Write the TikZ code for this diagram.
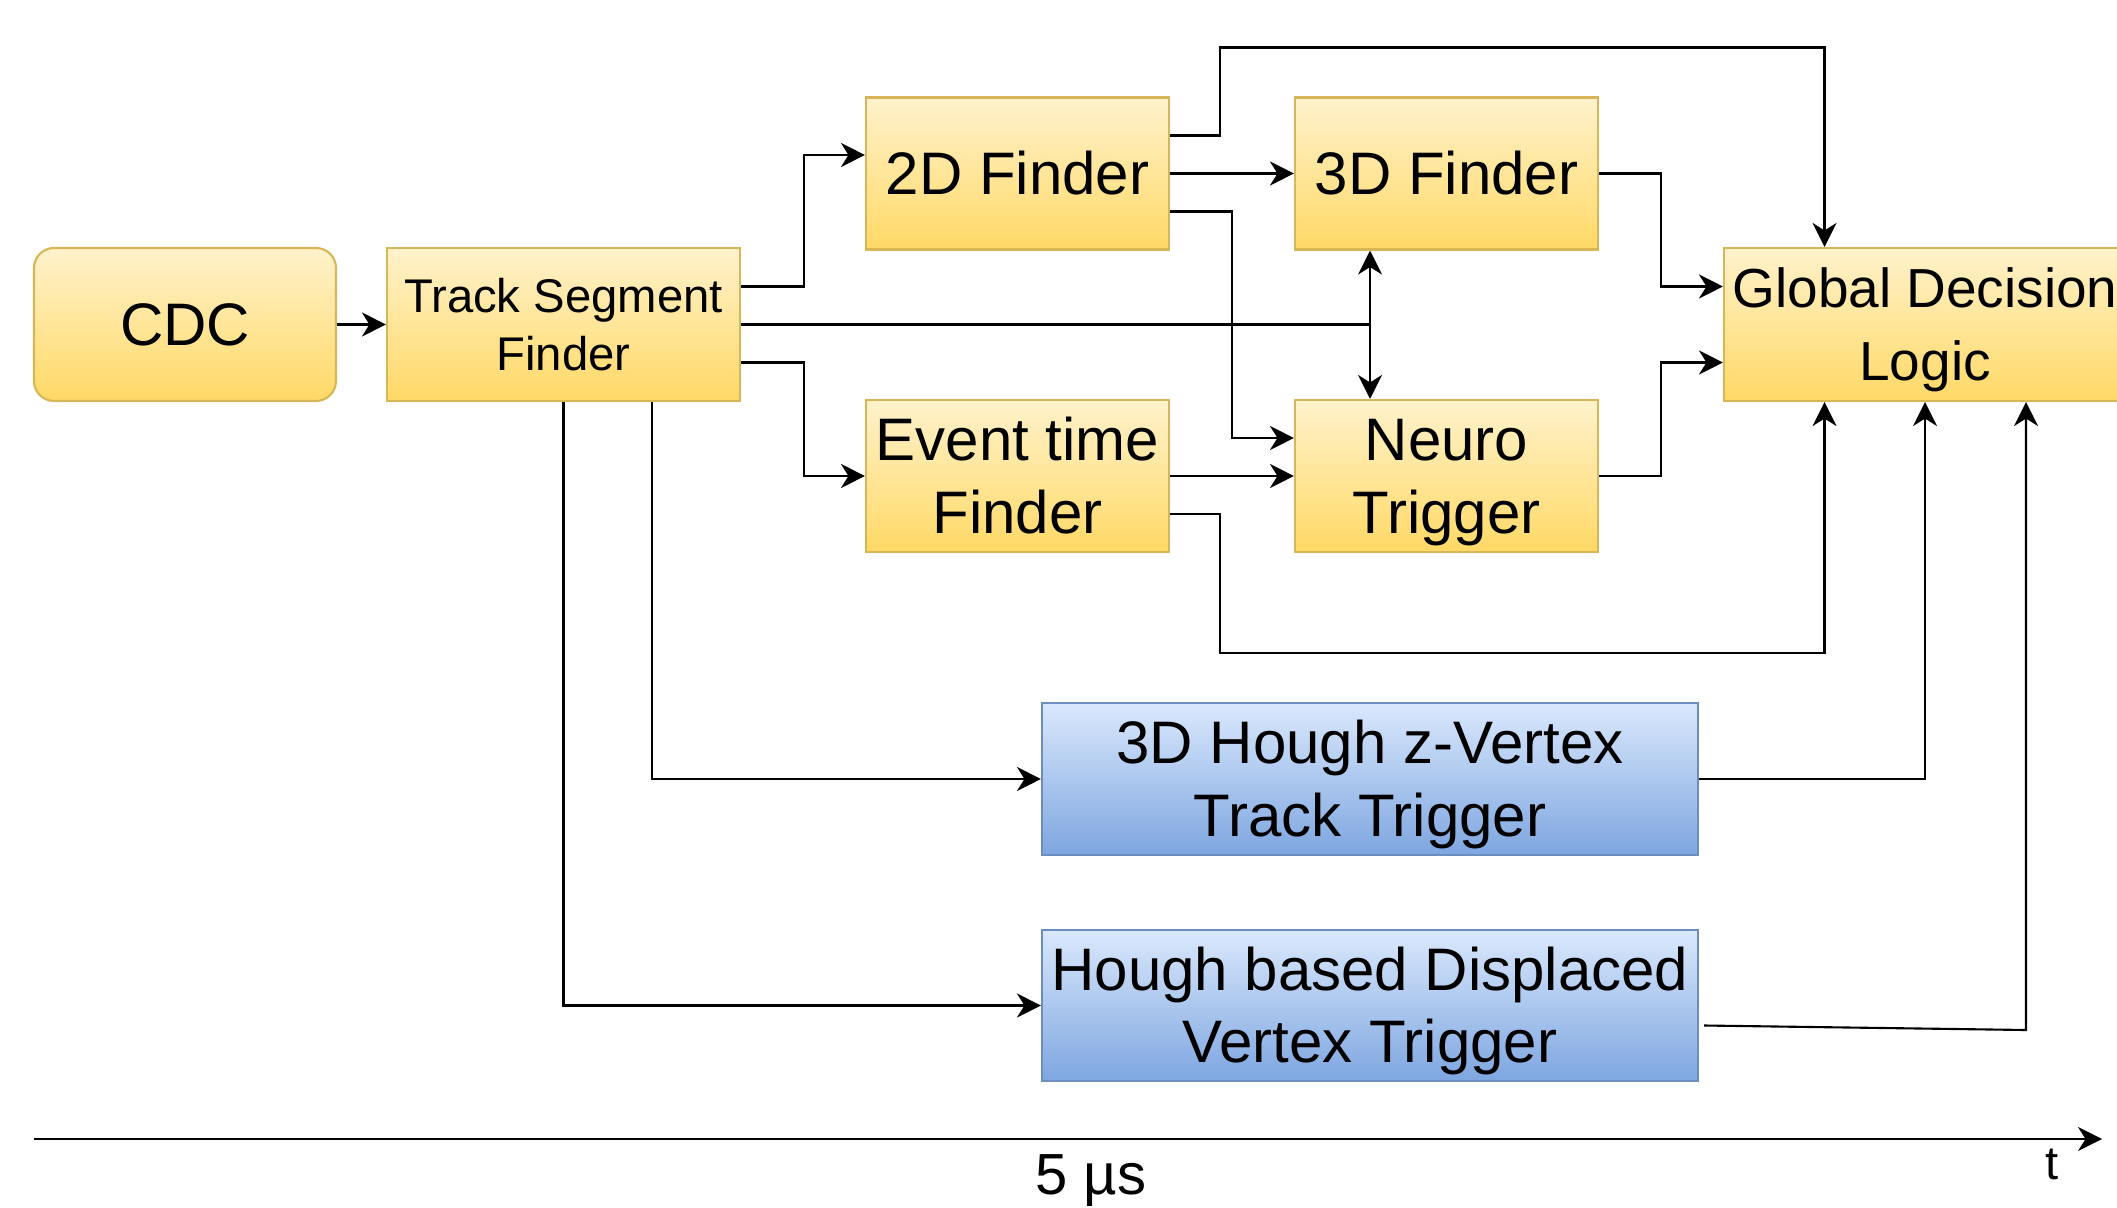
\documentclass[tikz,border=0pt]{standalone}
\usepackage{fontspec}
\setmainfont{Liberation Sans}
\usepackage{tikz}
\usetikzlibrary{arrows.meta}

\definecolor{ytop}{HTML}{FFF2CC}
\definecolor{ybot}{HTML}{FFD966}
\definecolor{yline}{HTML}{D6B656}
\definecolor{btop}{HTML}{DAE8FC}
\definecolor{bbot}{HTML}{7EA6E0}
\definecolor{bline}{HTML}{6C8EBF}

% fixed line box, so every line sits the same way in its block
\newcommand\linestrut{\rule[-0.25em]{0pt}{1.2em}}

\begin{document}
\begin{tikzpicture}[x=1cm,y=-1cm,
    block/.style={shape=rectangle,line width=0.6pt,inner sep=0pt,align=center,
      font=\fontsize{17.07}{20.75}\selectfont,execute at end node=\linestrut},
    yblock/.style={block,draw=yline,top color=ytop,bottom color=ybot,
      minimum width=3.03cm,minimum height=1.52cm},
    bblock/.style={block,draw=bline,top color=btop,bottom color=bbot,
      minimum width=6.56cm,minimum height=1.52cm},
    link/.style={draw,line width=0.6pt,-{Stealth[length=2.4mm,width=2.4mm,inset=0.75mm]}}]
    \useasboundingbox (0,0) rectangle (21.17,12.07);

    % trigger blocks
    \path (1.85,3.245) node [yblock,rounded corners=0.2cm,minimum width=3.02cm,minimum height=1.53cm] (cdc) {CDC}
          (5.635,3.245) node [yblock,minimum width=3.53cm,minimum height=1.53cm,
                font=\fontsize{13.45}{16.5}\selectfont] (tsf) {\linestrut Track Segment\\Finder}
          (10.175,1.735) node [yblock] (f2d) {2D Finder}
          (14.465,1.735) node [yblock] (f3d) {3D Finder}
          (10.175,4.76) node [yblock] (evt) {\linestrut Event time\\Finder}
          (14.465,4.76) node [yblock] (neuro) {\linestrut Neuro\\Trigger}
          (19.25,3.245) node [yblock,minimum width=4.02cm,minimum height=1.53cm,
                font=\fontsize{15.65}{20.75}\selectfont] (gdl) {\linestrut Global Decision\\Logic}
          (13.70,7.79) node [bblock] (hough) {\linestrut 3D Hough z-Vertex\\Track Trigger}
          (13.70,10.055) node [bblock,minimum height=1.51cm] (hdv) {\linestrut Hough based Displaced\\Vertex Trigger};

    % connections
    \draw[link] (cdc.east) -- (tsf.west);
    \draw[link] ([yshift=0.38cm]tsf.east) -- ++(0.63,0) |- ([yshift=0.185cm]f2d.west);
    \draw[link] ([yshift=-0.38cm]tsf.east) -- ++(0.63,0) |- (evt.west);
    \draw[link] (tsf.east) -| ([xshift=-0.765cm]f3d.south);
    \draw[link] (tsf.east) -| ([xshift=-0.765cm]neuro.north);
    \draw[link] ([xshift=0.885cm]tsf.south) |- (hough.west);
    \draw[link] (tsf.south) |- (hdv.west);

    \draw[link] (f2d.east) -- (f3d.west);
    \draw[link] ([yshift=0.38cm]f2d.east) -- ++(0.5,0) -- ++(0,-0.88) -| ([xshift=-1.005cm]gdl.north);
    \draw[link] ([yshift=-0.38cm]f2d.east) -- ++(0.62,0) |- ([yshift=0.38cm]neuro.west);
    \draw[link] (f3d.east) -- ++(0.62,0) |- ([yshift=0.38cm]gdl.west);

    \draw[link] (evt.east) -- (neuro.west);
    \draw[link] ([yshift=-0.38cm]evt.east) -- ++(0.5,0) -- ++(0,1.39) -| ([xshift=-1.005cm]gdl.south);
    \draw[link] (neuro.east) -- ++(0.62,0) |- ([yshift=-0.38cm]gdl.west);

    \draw[link] (hough.east) -| (gdl.south);
    \coordinate (hdvbend) at (20.26,10.30);
    \draw[link] ([xshift=0.05cm,yshift=-0.2cm]hdv.east) -- (hdvbend) -- (hdvbend |- gdl.south);

    % time axis
    \coordinate (t0) at (0.34,11.39);
    \coordinate (t1) at (21.02,11.39);
    \draw[link] (t0) -- (t1);
    \path (10.91,11.94) node [anchor=base,inner sep=0pt,font=\fontsize{16.5}{19}\selectfont] (tdur) {5 µs}
          (20.52,11.79) node [anchor=base,inner sep=0pt,font=\fontsize{13.4}{16}\selectfont] (tlabel) {t};
\end{tikzpicture}
\end{document}
